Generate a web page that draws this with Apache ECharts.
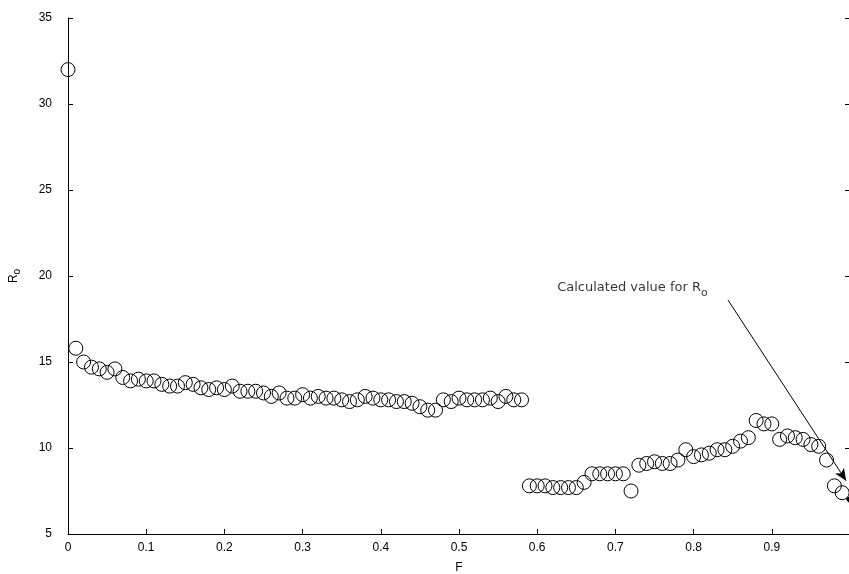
<!DOCTYPE html>
<html>
<head>
<meta charset="utf-8">
<script src="https://cdn.jsdelivr.net/npm/echarts@6/dist/echarts.min.js"></script>
<style>
  html, body { margin: 0; padding: 0; background: #fff; }
  #chart { width: 849px; height: 574px; }
</style>
</head>
<body>
<div id="chart"></div>
<script>
// F values run 0, 0.01 ... 0.99
const fValues = [
  0.00, 0.01, 0.02, 0.03, 0.04, 0.05, 0.06, 0.07, 0.08, 0.09,
  0.10, 0.11, 0.12, 0.13, 0.14, 0.15, 0.16, 0.17, 0.18, 0.19,
  0.20, 0.21, 0.22, 0.23, 0.24, 0.25, 0.26, 0.27, 0.28, 0.29,
  0.30, 0.31, 0.32, 0.33, 0.34, 0.35, 0.36, 0.37, 0.38, 0.39,
  0.40, 0.41, 0.42, 0.43, 0.44, 0.45, 0.46, 0.47, 0.48, 0.49,
  0.50, 0.51, 0.52, 0.53, 0.54, 0.55, 0.56, 0.57, 0.58, 0.59,
  0.60, 0.61, 0.62, 0.63, 0.64, 0.65, 0.66, 0.67, 0.68, 0.69,
  0.70, 0.71, 0.72, 0.73, 0.74, 0.75, 0.76, 0.77, 0.78, 0.79,
  0.80, 0.81, 0.82, 0.83, 0.84, 0.85, 0.86, 0.87, 0.88, 0.89,
  0.90, 0.91, 0.92, 0.93, 0.94, 0.95, 0.96, 0.97, 0.98, 0.99
];
const roValues = [
  32.0, 15.8, 15.0, 14.7, 14.6, 14.4, 14.6, 14.1, 13.9, 14.0,
  13.9, 13.9, 13.7, 13.6, 13.6, 13.8, 13.7, 13.5, 13.4, 13.5,
  13.4, 13.6, 13.3, 13.3, 13.3, 13.2, 13.0, 13.2, 12.9, 12.9,
  13.1, 12.9, 13.0, 12.9, 12.9, 12.8, 12.7, 12.8, 13.0, 12.9,
  12.8, 12.8, 12.7, 12.7, 12.6, 12.4, 12.2, 12.2, 12.8, 12.7,
  12.9, 12.8, 12.8, 12.8, 12.9, 12.7, 13.0, 12.8, 12.8, 7.8,
  7.8, 7.8, 7.7, 7.7, 7.7, 7.7, 8.0, 8.5, 8.5, 8.5,
  8.5, 8.5, 7.5, 9.0, 9.1, 9.2, 9.1, 9.1, 9.3, 9.9,
  9.5, 9.6, 9.7, 9.9, 9.9, 10.1, 10.4, 10.6, 11.6, 11.4,
  11.4, 10.5, 10.7, 10.6, 10.5, 10.2, 10.1, 9.3, 7.8, 7.4
];
// calculated value (small mark at right edge)
const calcPoint = [0.998, 6.8];
// annotation arrow: from label to calculated value
const arrowStart = [0.844, 18.6];
const arrowEnd = [0.995, 8.1];
const labelAnchor = [0.818, 19.3];

const xTicks = [0, 0.1, 0.2, 0.3, 0.4, 0.5, 0.6, 0.7, 0.8, 0.9];

const fontFamily = '"Liberation Sans", Arial, sans-serif';
const noteFont = '"DejaVu Sans", sans-serif';
const ink = '#000';

const chart = echarts.init(document.getElementById('chart'), null, { renderer: 'canvas' });

const axisCommon = {
  axisLine: { show: true, onZero: false, lineStyle: { color: ink, width: 1 } },
  axisTick: { show: true, inside: true, length: 5, lineStyle: { color: ink } },
  splitLine: { show: false },
};

chart.setOption({
  animation: false,
  backgroundColor: '#fff',
  grid: { left: 68, top: 18, width: 782, height: 516, outerBoundsMode: 'none', containLabel: false },
  xAxis: {
    type: 'value',
    min: 0,
    max: 1,
    interval: 0.1,
    name: 'F',
    nameLocation: 'middle',
    nameGap: 28,
    nameTextStyle: { color: ink, fontFamily, fontSize: 12 },
    ...axisCommon,
    axisLabel: {
      color: ink, fontFamily, fontSize: 12, margin: 8,
      formatter: (v) => {
        const t = xTicks.find((x) => Math.abs(x - v) < 1e-6)
        return t === undefined ? '' : String(t)
      },
    },
  },
  yAxis: [
    {
      type: 'value',
      min: 5,
      max: 35,
      interval: 5,
      name: '{r|R}{o|o}',
      nameLocation: 'middle',
      nameGap: 46,
      nameRotate: 90,
      nameTextStyle: {
        color: ink, fontFamily, fontSize: 12,
        rich: {
          r: { fontFamily, fontSize: 12, color: ink },
          o: { fontFamily, fontSize: 10, color: ink, verticalAlign: 'bottom', padding: [6, 0, 0, 0] },
        },
      },
      ...axisCommon,
      axisLabel: { color: ink, fontFamily, fontSize: 12, margin: 16 },
    },
    {
      type: 'value',
      position: 'right',
      min: 5,
      max: 35,
      interval: 5,
      ...axisCommon,
      axisLabel: { show: false },
    },
  ],
  series: [
    {
      name: 'Ro',
      type: 'scatter',
      symbol: 'circle',
      symbolSize: 14,
      itemStyle: { color: 'rgba(0,0,0,0)', borderColor: ink, borderWidth: 1, opacity: 1 },
      data: fValues.map((f, i) => [f, roValues[i]]),
      silent: true,
      markLine: {
        silent: true,
        symbol: ['none', 'arrow'],
        symbolSize: [8, 12],
        lineStyle: { color: ink, width: 1, type: 'solid' },
        label: { show: false },
        data: [[{ coord: arrowStart }, { coord: arrowEnd }]],
      },
    },
    {
      name: 'calculated',
      type: 'scatter',
      symbol: 'pin',
      symbolSize: 7,
      itemStyle: { color: ink, opacity: 1 },
      data: [calcPoint],
      silent: true,
    },
    {
      name: 'label',
      type: 'scatter',
      symbolSize: 0,
      data: [labelAnchor],
      silent: true,
      label: {
        show: true,
        position: 'left',
        distance: 0,
        formatter: '{t|Calculated value for R}{s|o}',
        rich: {
          t: { fontFamily: noteFont, fontSize: 13, color: ink },
          s: { fontFamily: noteFont, fontSize: 11, color: ink, padding: [10, 0, 0, 0] },
        },
      },
    },
  ],
});
</script>
</body>
</html>
